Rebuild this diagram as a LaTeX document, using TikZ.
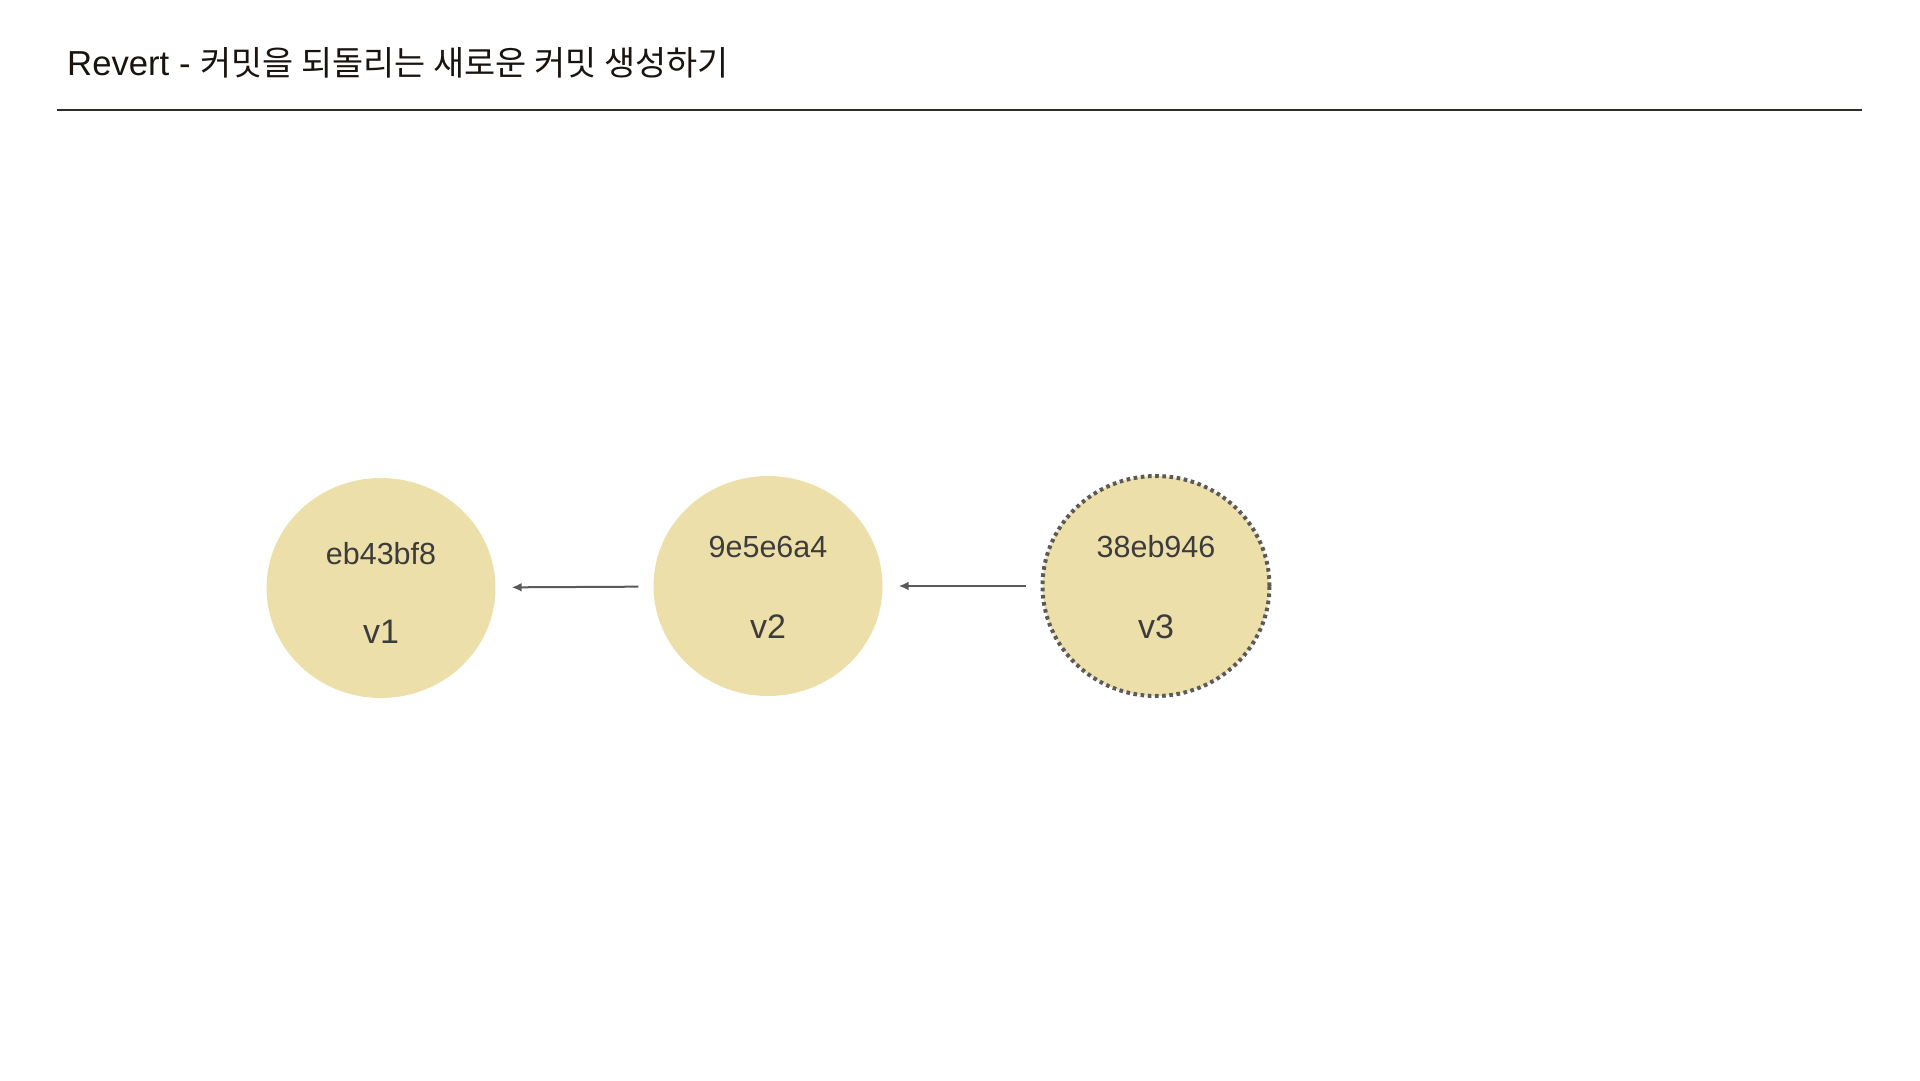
\documentclass[tikz,border=0pt]{standalone}
\usepackage{fontspec}
\setmainfont{Liberation Sans}
\newfontfamily\cjk[Scale=0.975]{Noto Sans CJK KR}
\usepackage{xcolor}
\usepackage{tikz}
\usetikzlibrary{shapes,arrows,positioning,calc,arrows.meta,shapes.geometric}

\definecolor{commitfill}{HTML}{EDDFA9}
\definecolor{commitink}{HTML}{3C3C3C}
\definecolor{linkgray}{HTML}{5A5A5A}
\definecolor{titleink}{HTML}{1A1410}

\tikzset{
  commit/.style={ellipse, fill=commitfill, draw=none, minimum width=229pt, minimum height=220pt, inner sep=0pt},
  revertcommit/.style={commit, draw=linkgray, line width=4pt, dash pattern=on 3.6pt off 3.6pt, minimum width=227pt, minimum height=220pt},
  hashtxt/.style={text=commitink, font=\fontsize{30.5}{34}\selectfont, inner sep=0pt, anchor=base},
  vertxt/.style={text=commitink, font=\fontsize{34}{38}\selectfont, inner sep=0pt, anchor=base},
  link/.style={draw=linkgray, line width=2pt, -{Latex[length=10pt,width=9pt]}, shorten >=16pt, shorten <=15pt}
}

\begin{document}
\begin{tikzpicture}[x=1pt,y=-1pt]
        \useasboundingbox (0,0) rectangle (1920,1080);

        % Title
        \node[anchor=base west, inner sep=0pt, text=titleink, font=\fontsize{34.7}{40}\selectfont] (title) at (67,75) {Revert - {\cjk 커밋을 되돌리는 새로운 커밋 생성하기}};
        \coordinate (ruleL) at (57,110);
        \coordinate (ruleR) at (1862,110);
        \draw[line width=2pt, draw=titleink!90] (ruleL) -- (ruleR);

        % Commits
        \node[commit] (c1) at (381,588) {};
        \node[hashtxt] (h1) at ([yshift=24pt]c1.center) {eb43bf8};
        \node[vertxt] (v1) at ([yshift=-55pt]c1.center) {v1};

        \node[commit] (c2) at (768,586) {};
        \node[hashtxt] (h2) at ([yshift=29pt]c2.center) {9e5e6a4};
        \node[vertxt] (v2) at ([yshift=-52pt]c2.center) {v2};

        % Revert commit (new)
        \node[revertcommit] (c3) at (1156,586) {};
        \node[hashtxt] (h3) at ([yshift=29pt]c3.center) {38eb946};
        \node[vertxt] (v3) at ([yshift=-52pt]c3.center) {v3};

        % Parent links
        \draw[link] (c2) -- (c1);
        \draw[link] (c3) -- (c2);
    \end{tikzpicture}
\end{document}
